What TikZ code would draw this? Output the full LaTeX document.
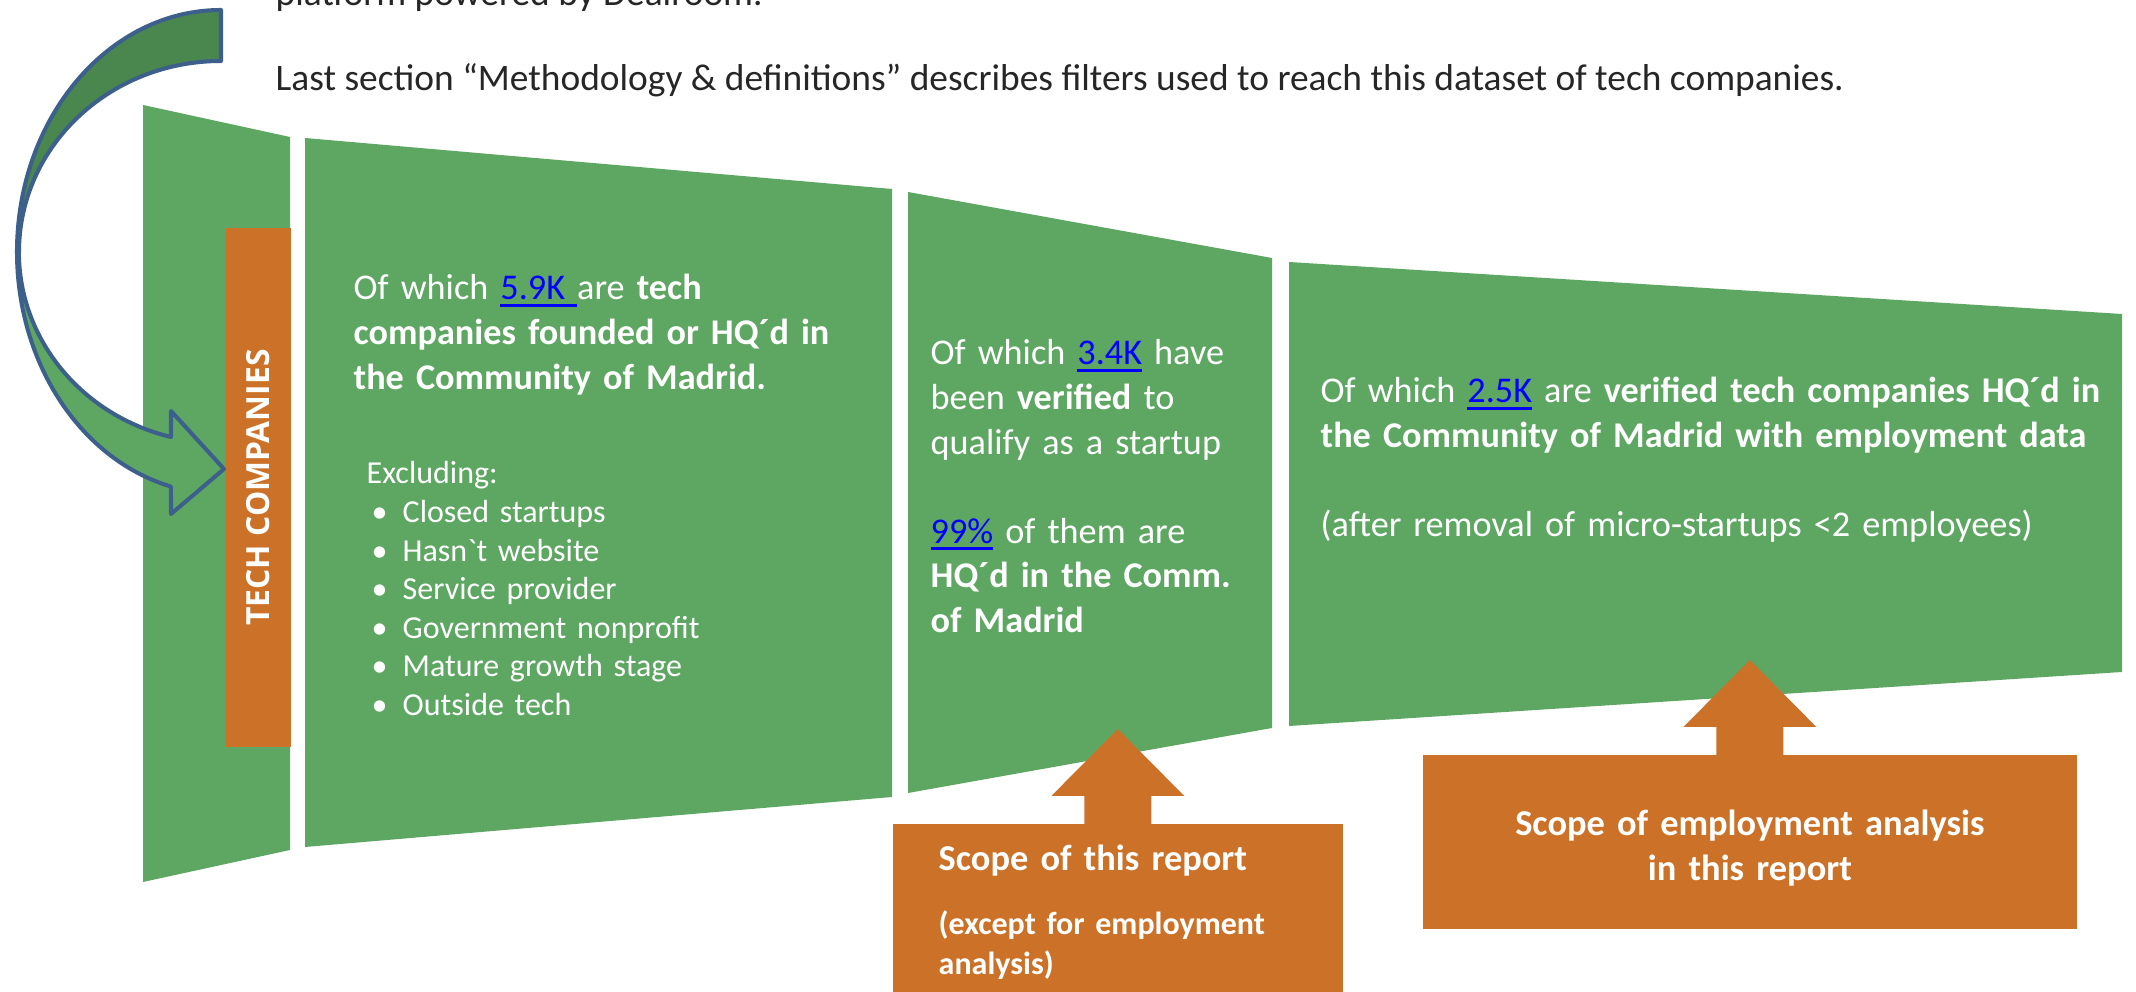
\documentclass[tikz,border=0pt]{standalone}
\usepackage{fontspec}
\setmainfont{Carlito}
\newfontfamily\barfont{Open Sans}
\usetikzlibrary{calc}
\definecolor{funnelgreen}{RGB}{94,167,98}
\definecolor{backgreen}{RGB}{74,135,78}
\definecolor{scopeorange}{RGB}{204,113,40}
\definecolor{arrowblue}{RGB}{60,95,140}
\definecolor{linkblue}{RGB}{0,0,255}
\definecolor{notegray}{RGB}{38,38,38}
\newcommand{\lnk}[1]{\textcolor{linkblue}{\setbox0=\hbox{#1}\rlap{\rule[-2pt]{\wd0}{0.85pt}}\box0}}
\newcommand{\bul}{\makebox[0.36cm][l]{\hspace*{0.05cm}•}}
\tikzstyle{funnel} = [fill=funnelgreen]
\tikzstyle{techbar} = [rectangle, fill=scopeorange, text=white, rotate=90, minimum width=5.19cm, minimum height=0.65cm, inner sep=0pt, font=\barfont\bfseries\fontsize{9.05}{10}\selectfont]
\tikzstyle{bendarrow} = [draw=arrowblue, line width=1.15pt, line join=round]
\tikzstyle{note} = [text=notegray, inner sep=0pt, anchor=base west, font=\fontsize{10.64}{12.4}\selectfont]
\tikzstyle{intext} = [text=white, align=left, inner sep=0pt, anchor=base west, text width=8.5cm, font=\fontsize{10.3}{12.66}\selectfont]
\tikzstyle{listtext} = [intext, font=\fontsize{9.1}{10.95}\selectfont]
\tikzstyle{scopebox} = [rectangle, fill=scopeorange, inner sep=0pt, anchor=north west]
\tikzstyle{scopearrow} = [fill=scopeorange]
\tikzstyle{scopetext} = [text=white, align=left, inner sep=0pt, anchor=base west, text width=4cm, font=\bfseries\fontsize{10.35}{12.66}\selectfont]

\begin{document}
\begin{tikzpicture}[x=0.01cm, y=-0.01cm]
  \path[use as bounding box, fill=white] (0,0) rectangle (2136,992);
  % funnel
  \fill[funnel] (143,105) -- (290,137) -- (290,850) -- (143,882) -- cycle;
  \fill[funnel] (305,138) -- (892,189) -- (892,797) -- (305,847) -- cycle;
  \fill[funnel] (908,192) -- (1272,258) -- (1272,728) -- (908,793) -- cycle;
  \fill[funnel] (1289,262) -- (2122,314) -- (2122,672) -- (1289,726) -- cycle;
  \node (c0) [techbar] at (258.5,487.5) {TECH COMPANIES};
  % curved arrow
  \filldraw[bendarrow, fill=backgreen] (221,10) arc[start angle=270, end angle=180, x radius=204, y radius=242] -- (19,252) arc[start angle=180, end angle=270, x radius=202, y radius=191] -- cycle;
  \filldraw[bendarrow, fill=funnelgreen] (17,252) arc[start angle=180, end angle=104.2, x radius=204, y radius=242] -- (171,514) -- (224,469) -- (171,411) -- (171,437) arc[start angle=104.3, end angle=180, x radius=202, y radius=191] -- cycle;
  % notes
  \node (n0) [note] at (275,6) {platform powered by Dealroom.};
  \node (n1) [note] at (275,91) {Last section “Methodology \& definitions” describes filters used to reach this dataset of tech companies.};
  % funnel texts
  \node (f1) [intext] at (353,300) {Of which \lnk{5.9K\ }are \textbf{tech}\\ \textbf{companies founded or HQ´d in}\\ \textbf{the Community of Madrid.}};
  \node (x1) [listtext] at (366,484) {Excluding:\\ \bul Closed startups\\ \bul Hasn\textasciigrave t website\\ \bul Service provider\\ \bul Government nonprofit\\ \bul Mature growth stage\\ \bul Outside tech};
  \node (f2) [intext] at (930,365) {Of which \lnk{3.4K} have\\ been \textbf{verified} to\\ qualify as a startup\\[12.66pt] \lnk{99\%} of them are\\ \textbf{HQ´d in the Comm.}\\ \textbf{of Madrid}};
  \node (f3) [intext] at (1320,403) {Of which \lnk{2.5K} are \textbf{verified tech companies HQ´d in}\\ \textbf{the Community of Madrid with employment data}\\[12.66pt] (after removal of micro-startups <2 employees)};
  % scope boxes
  \node (r1) [scopebox, minimum width=4.5cm, minimum height=1.9cm] at (892,823) {};
  \node (r2) [scopebox, minimum width=6.54cm, minimum height=1.74cm] at (1422,754) {};
  \fill[scopearrow] ($(r1.north)+(-33.5,1)$) -- ++(0,-28) -- ++(-33,0) -- ($(r1.north)+(0,-94)$) -- ($(r1.north)+(66.5,-27)$) -- ++(-33,0) -- ++(0,28) -- cycle;
  \fill[scopearrow] ($(r2.north)+(-33.5,1)$) -- ++(0,-28) -- ++(-33,0) -- ($(r2.north)+(0,-94)$) -- ($(r2.north)+(66.5,-27)$) -- ++(-33,0) -- ++(0,28) -- cycle;
  \node (r1t) [scopetext] at ($(r1.north west)+(46,48)$) {Scope of this report};
  \node (r1s) [scopetext, font=\bfseries\fontsize{9.1}{11.1}\selectfont] at ($(r1.north west)+(46,112)$) {(except for employment\\ analysis)};
  \node (r2t) [scopetext, align=center, anchor=base, text width=6cm] at ($(r2.north)+(0,82)$) {Scope of employment analysis\\ in this report};
\end{tikzpicture}
\end{document}
